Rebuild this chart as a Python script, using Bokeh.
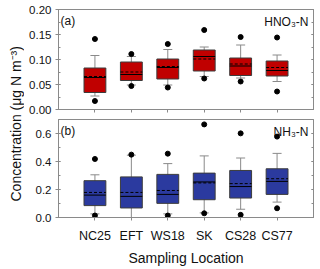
import numpy as np
from bokeh.plotting import figure
from bokeh.models import (Range1d, LinearAxis, FixedTicker, Label, ColumnDataSource,
                          Whisker, TeeHead, NumeralTickFormatter, CustomLabelingPolicy)
from bokeh.layouts import row, column
from bokeh.embed import file_html
from bokeh.resources import INLINE

categories = ["NC25", "EFT", "WS18", "SK", "CS28", "CS77"]

# HNO3-N (panel a)
hno3_low = [0.027, 0.049, 0.049, 0.066, 0.063, 0.056]
hno3_q1 = [0.034, 0.058, 0.061, 0.077, 0.068, 0.067]
hno3_median = [0.064, 0.070, 0.084, 0.106, 0.087, 0.078]
hno3_mean = [0.066, 0.075, 0.086, 0.101, 0.091, 0.084]
hno3_q3 = [0.083, 0.095, 0.101, 0.119, 0.103, 0.097]
hno3_high = [0.108, 0.106, 0.120, 0.125, 0.129, 0.109]
hno3_out_cat = ["NC25", "NC25", "EFT", "EFT", "WS18", "WS18", "SK", "SK", "CS28", "CS28", "CS77", "CS77"]
hno3_out_val = [0.141, 0.017, 0.111, 0.047, 0.131, 0.044, 0.159, 0.062, 0.145, 0.056, 0.144, 0.036]

# NH3-N (panel b)
nh3_low = [0.026, 0.000, 0.026, 0.033, 0.059, 0.110]
nh3_q1 = [0.085, 0.068, 0.101, 0.127, 0.139, 0.165]
nh3_median = [0.160, 0.151, 0.165, 0.254, 0.221, 0.258]
nh3_mean = [0.179, 0.179, 0.193, 0.247, 0.242, 0.277]
nh3_q3 = [0.263, 0.290, 0.308, 0.317, 0.336, 0.348]
nh3_high = [0.305, 0.445, 0.385, 0.440, 0.425, 0.458]
nh3_out_cat = ["NC25", "NC25", "EFT", "WS18", "WS18", "SK", "SK", "CS28", "CS28", "CS77", "CS77"]
nh3_out_val = [0.418, 0.014, 0.449, 0.456, 0.014, 0.665, 0.030, 0.601, 0.019, 0.578, 0.066]

hno3_major = [0.0, 0.05, 0.10, 0.15, 0.20]
hno3_minor = [0.0, 0.025, 0.05, 0.075, 0.10, 0.125, 0.15, 0.175, 0.20]
nh3_major = [0.0, 0.2, 0.4, 0.6]
nh3_minor = [0.0, 0.1, 0.2, 0.3, 0.4, 0.5, 0.6, 0.7]

FONT = "Liberation Sans"
GRAY = "#8a8a8a"
TXT = "#111111"

NO_LABELS = "for (const i of indices) indices.unset(i)\nreturn indices"


def make_panel(low, q1, med, mean, q3, high, out_cat, out_val, ymax, major, minor,
               fmt, fill, tag, species, height, mb_top, mb_bottom, show_labels):
    idx = np.arange(1, len(categories) + 1, dtype=float)
    pos = {c: i for c, i in zip(categories, idx)}
    src = ColumnDataSource(dict(x=idx, x0=idx - 0.3, x1=idx + 0.3, low=low, q1=q1,
                                med=med, mean=mean, q3=q3, high=high))
    p = figure(width=291, height=height, x_range=Range1d(0, 7), y_range=Range1d(0, ymax),
               output_backend="svg", toolbar_location=None,
               min_border_left=34, min_border_right=2,
               min_border_top=mb_top, min_border_bottom=mb_bottom)
    p.grid.visible = False
    p.outline_line_color = GRAY
    p.background_fill_color = "white"
    p.border_fill_color = "white"

    w = Whisker(source=src, base="x", lower="low", upper="high", line_color=GRAY,
                line_width=1, level="underlay",
                lower_head=TeeHead(size=9, line_color=GRAY, line_width=1),
                upper_head=TeeHead(size=9, line_color=GRAY, line_width=1))
    p.add_layout(w)
    p.vbar(x="x", width=0.6, bottom="q1", top="q3", source=src, fill_color=fill,
           line_color="#3c3c3c", line_width=1)
    p.segment("x0", "med", "x1", "med", source=src, line_color="black", line_width=1)
    p.segment("x0", "mean", "x1", "mean", source=src, line_color="black", line_width=1,
              line_dash="3 2")
    p.scatter([pos[c] for c in out_cat], out_val, size=5, color="black")

    xa = p.xaxis[0]
    xa.ticker = FixedTicker(ticks=list(idx))
    xa.major_label_overrides = {float(i): c for i, c in zip(idx, categories)}
    xa.axis_line_color = GRAY
    xa.major_tick_line_color = GRAY
    xa.major_tick_out = 3
    xa.major_tick_in = 0
    xa.minor_tick_line_color = None
    xa.major_label_text_font = FONT
    xa.major_label_text_color = TXT
    if show_labels:
        xa.major_label_text_font_size = "12.5px"
        xa.major_label_standoff = 8
        xa.axis_label = "Sampling Location"
        xa.axis_label_text_font = FONT
        xa.axis_label_text_font_size = "14px"
        xa.axis_label_text_font_style = "normal"
        xa.axis_label_text_color = TXT
        xa.axis_label_standoff = 4
    else:
        xa.major_label_text_font_size = "0px"
        xa.major_label_standoff = 0
        xa.major_label_policy = CustomLabelingPolicy(code=NO_LABELS)

    ya = p.yaxis[0]
    ya.ticker = FixedTicker(ticks=major, minor_ticks=minor)
    ya.formatter = NumeralTickFormatter(format=fmt)
    ya.axis_line_color = GRAY
    ya.major_tick_line_color = GRAY
    ya.minor_tick_line_color = GRAY
    ya.major_tick_out = 3
    ya.major_tick_in = 2
    ya.minor_tick_out = 0
    ya.minor_tick_in = 2
    ya.major_label_text_font = FONT
    ya.major_label_text_font_size = "11.5px"
    ya.major_label_text_color = TXT
    ya.major_label_standoff = 4

    ra = LinearAxis(ticker=FixedTicker(ticks=major, minor_ticks=minor),
                    axis_line_color=GRAY, major_tick_line_color=GRAY,
                    minor_tick_line_color=GRAY, major_tick_in=2, major_tick_out=0,
                    minor_tick_in=2, minor_tick_out=0, major_label_standoff=0,
                    major_label_text_font_size="0px",
                    major_label_policy=CustomLabelingPolicy(code=NO_LABELS))
    p.add_layout(ra, "right")

    p.add_layout(Label(x=0, y=ymax, x_offset=2, y_offset=-4, text=tag, text_font=FONT,
                       text_font_size="12px", text_color=TXT, text_baseline="top",
                       text_align="left"))
    p.add_layout(Label(x=7, y=ymax, x_offset=-5, y_offset=-5, text=species,
                       text_font=FONT, text_font_size="12px", text_color=TXT,
                       text_baseline="top", text_align="right"))
    return p


top = make_panel(hno3_low, hno3_q1, hno3_median, hno3_mean, hno3_q3, hno3_high,
                 hno3_out_cat, hno3_out_val, 0.2, hno3_major, hno3_minor, "0.00",
                 "#c00000", "(a)", "HNO₃-N", 118, 9, 9, False)
bottom = make_panel(nh3_low, nh3_q1, nh3_median, nh3_mean, nh3_q3, nh3_high,
                    nh3_out_cat, nh3_out_val, 0.7, nh3_major, nh3_minor, "0.0",
                    "#2b3a9f", "(b)", "NH₃-N", 150, 1, 49, True)

lab = figure(width=24, height=268, x_range=Range1d(0, 1), y_range=Range1d(0, 1),
             x_axis_type=None, y_axis_type=None, output_backend="svg",
             toolbar_location=None, min_border=0)
lab.grid.visible = False
lab.outline_line_color = None
lab.add_layout(Label(x=0.64, y=0.54, text="Concentration (μg N m⁻³)", angle=np.pi / 2,
                     text_font=FONT, text_font_size="14px", text_color=TXT,
                     text_align="center", text_baseline="middle"))

layout = row(lab, column(top, bottom))
open("out.html", "w").write(file_html(layout, INLINE))
